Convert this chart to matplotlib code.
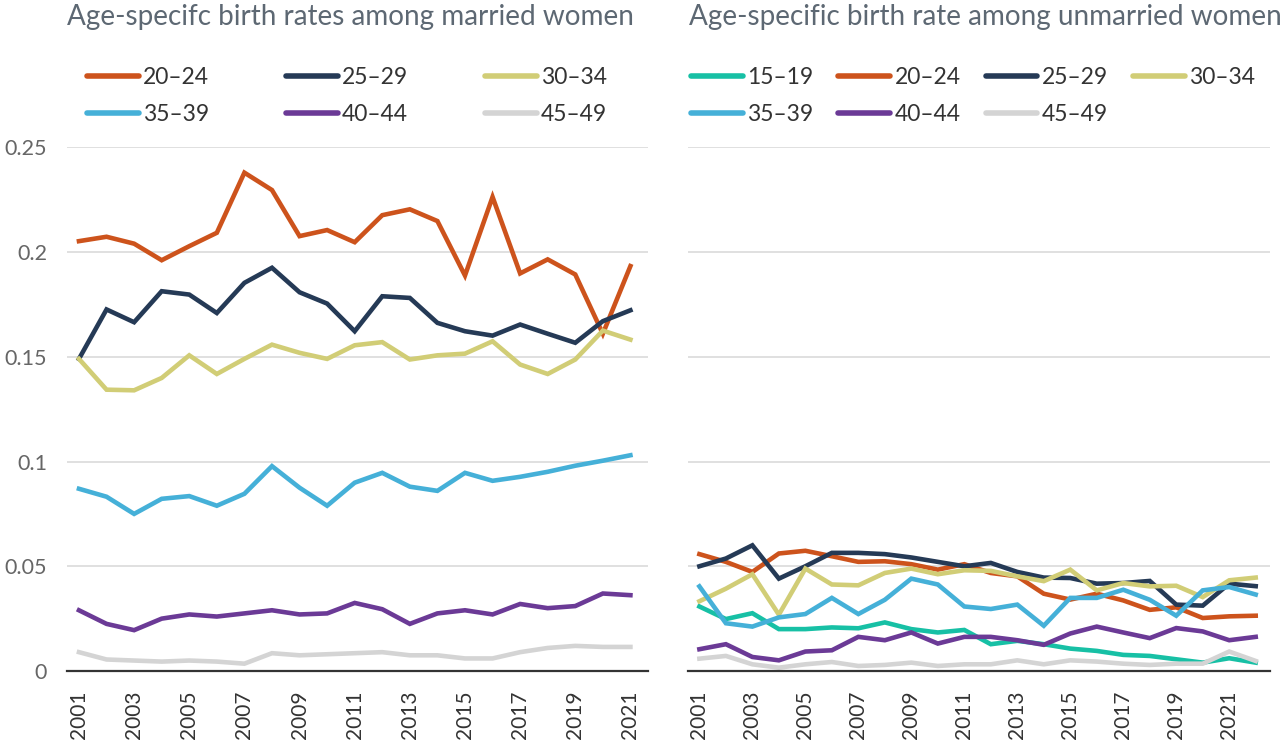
import matplotlib.pyplot as plt
import numpy as np

# Data
years_married = list(range(2001, 2022))
years_unmarried = list(range(2001, 2023))

married_labels = ["20–24", "25–29", "30–34", "35–39", "40–44", "45–49"]
married_20_24 = [0.2052, 0.2073, 0.2040, 0.1961, 0.2028, 0.2092, 0.2379, 0.2296, 0.2076, 0.2105, 0.2047,
                 0.2176, 0.2204, 0.2148, 0.1888, 0.2263, 0.1898, 0.1965, 0.1893, 0.1610, 0.1933]
married_25_29 = [0.1490, 0.1726, 0.1665, 0.1813, 0.1797, 0.1709, 0.1853, 0.1925, 0.1808, 0.1754, 0.1622,
                 0.1789, 0.1781, 0.1662, 0.1622, 0.1601, 0.1654, 0.1610, 0.1567, 0.1670, 0.1722]
married_30_34 = [0.1490, 0.1343, 0.1340, 0.1399, 0.1507, 0.1418, 0.1490, 0.1558, 0.1519, 0.1490, 0.1555,
                 0.1570, 0.1487, 0.1507, 0.1515, 0.1574, 0.1463, 0.1418, 0.1487, 0.1625, 0.1582]
married_35_39 = [0.0870, 0.0832, 0.0750, 0.0822, 0.0835, 0.0789, 0.0846, 0.0978, 0.0875, 0.0789, 0.0899,
                 0.0946, 0.0880, 0.0860, 0.0946, 0.0908, 0.0927, 0.0951, 0.0980, 0.1004, 0.1030]
married_40_44 = [0.0290, 0.0225, 0.0195, 0.0250, 0.0270, 0.0260, 0.0275, 0.0290, 0.0270, 0.0275, 0.0325,
                 0.0295, 0.0225, 0.0275, 0.0290, 0.0270, 0.0320, 0.0300, 0.0310, 0.0370, 0.0362]
married_45_49 = [0.0090, 0.0055, 0.0050, 0.0045, 0.0050, 0.0045, 0.0035, 0.0085, 0.0075, 0.0080, 0.0085,
                 0.0090, 0.0075, 0.0075, 0.0060, 0.0060, 0.0090, 0.0110, 0.0120, 0.0115, 0.0115]

unmarried_labels = ["15–19", "20–24", "25–29", "30–34", "35–39", "40–44", "45–49"]
unmarried_15_19 = [0.0308, 0.0248, 0.0276, 0.0200, 0.0200, 0.0208, 0.0204, 0.0232, 0.0200, 0.0184, 0.0196,
                   0.0128, 0.0144, 0.0128, 0.0107, 0.0096, 0.0077, 0.0072, 0.0056, 0.0040, 0.0061, 0.0040]
unmarried_20_24 = [0.0558, 0.0521, 0.0473, 0.0561, 0.0574, 0.0548, 0.0521, 0.0524, 0.0510, 0.0484, 0.0510,
                   0.0468, 0.0452, 0.0369, 0.0341, 0.0369, 0.0337, 0.0292, 0.0304, 0.0253, 0.0261, 0.0264]
unmarried_25_29 = [0.0500, 0.0537, 0.0600, 0.0441, 0.0500, 0.0564, 0.0564, 0.0558, 0.0542, 0.0521, 0.0500,
                   0.0516, 0.0473, 0.0446, 0.0444, 0.0417, 0.0420, 0.0430, 0.0317, 0.0312, 0.0417, 0.0405]
unmarried_30_34 = [0.0333, 0.0393, 0.0462, 0.0269, 0.0489, 0.0413, 0.0409, 0.0468, 0.0489, 0.0462, 0.0481,
                   0.0478, 0.0452, 0.0429, 0.0484, 0.0385, 0.0420, 0.0404, 0.0407, 0.0353, 0.0433, 0.0446]
unmarried_35_39 = [0.0404, 0.0228, 0.0212, 0.0256, 0.0272, 0.0349, 0.0272, 0.0340, 0.0441, 0.0413, 0.0308,
                   0.0296, 0.0317, 0.0216, 0.0349, 0.0349, 0.0388, 0.0340, 0.0264, 0.0385, 0.0401, 0.0365]
unmarried_40_44 = [0.0104, 0.0128, 0.0067, 0.0051, 0.0093, 0.0099, 0.0163, 0.0147, 0.0184, 0.0131, 0.0163,
                   0.0163, 0.0147, 0.0125, 0.0179, 0.0212, 0.0184, 0.0157, 0.0205, 0.0189, 0.0147, 0.0163]
unmarried_45_49 = [0.0059, 0.0072, 0.0032, 0.0016, 0.0032, 0.0043, 0.0024, 0.0029, 0.0040, 0.0024, 0.0032,
                   0.0032, 0.0051, 0.0032, 0.0051, 0.0045, 0.0035, 0.0029, 0.0035, 0.0035, 0.0093, 0.0048]

married_series = [married_20_24, married_25_29, married_30_34, married_35_39, married_40_44, married_45_49]
unmarried_series = [unmarried_15_19, unmarried_20_24, unmarried_25_29, unmarried_30_34,
                    unmarried_35_39, unmarried_40_44, unmarried_45_49]

colors = {
    "15–19": "#17c0a5",
    "20–24": "#cd531c",
    "25–29": "#253a56",
    "30–34": "#d1cd76",
    "35–39": "#45b0d8",
    "40–44": "#6b3a96",
    "45–49": "#d4d4d4",
}

plt.rcParams['font.family'] = ['Lato', 'DejaVu Sans']

fig = plt.figure(figsize=(12.8, 7.44), dpi=100)
ax1 = fig.add_axes([0.052, 0.0981, 0.4543, 0.7039])
ax2 = fig.add_axes([0.5375, 0.0981, 0.4547, 0.7039])

TITLE_COLOR = "#5d6873"
TEXT_COLOR = "#333333"
GRID_COLOR = "#dddddd"


def style_axis(ax, years, xlim, show_ylabels):
    ax.set_ylim(0, 0.25)
    ax.set_xlim(*xlim)
    ax.set_yticks([0, 0.05, 0.1, 0.15, 0.2, 0.25])
    ax.set_yticklabels(["0", "0.05", "0.1", "0.15", "0.2", "0.25"])
    ax.set_xticks(years[::2])
    ax.set_xticklabels([str(y) for y in years[::2]], rotation=90, fontsize=15, color=TEXT_COLOR)
    ax.tick_params(axis='x', length=0, pad=14)
    ax.tick_params(axis='y', length=0, pad=14, labelsize=15.5, labelcolor="#666666")
    if not show_ylabels:
        ax.tick_params(axis='y', labelleft=False)
    ax.grid(axis='y', color=GRID_COLOR, linewidth=1.3, zorder=0)
    ax.set_axisbelow(True)
    for side in ["top", "right", "left"]:
        ax.spines[side].set_visible(False)
    ax.spines["bottom"].set_color("#333333")
    ax.spines["bottom"].set_linewidth(1.6)
    ax.spines["bottom"].set_zorder(5)


# Left: married women
for label, vals in zip(married_labels, married_series):
    ax1.plot(years_married, vals, color=colors[label], linewidth=3.3, label=label,
             solid_joinstyle='miter', zorder=3)
style_axis(ax1, years_married, (2000.55, 2021.64), True)

# Right: unmarried women
for label, vals in zip(unmarried_labels, unmarried_series):
    ax2.plot(years_unmarried, vals, color=colors[label], linewidth=3.3, label=label,
             solid_joinstyle='miter', zorder=3)
style_axis(ax2, years_married, (2000.57, 2022.54), False)

# Titles
fig.text(67 / 1280, 1 - 17 / 744, "Age-specifc birth rates among married women",
         fontsize=20.1, color=TITLE_COLOR, va='center', ha='left')
fig.text(689 / 1280, 1 - 17 / 744, "Age-specific birth rate among unmarried women",
         fontsize=20.1, color=TITLE_COLOR, va='center', ha='left')

# Legends - matplotlib fills columns first, so reorder to read row by row
h1, l1 = ax1.get_legend_handles_labels()
order1 = [0, 3, 1, 4, 2, 5]
leg1 = ax1.legend([h1[i] for i in order1], [l1[i] for i in order1],
                  loc='upper left', bbox_to_anchor=(87 / 1280, 1 - 67 / 744),
                  bbox_transform=fig.transFigure, ncol=3, frameon=False, fontsize=16.5,
                  handlelength=2.25, handletextpad=0.2, columnspacing=3.35,
                  labelspacing=0.68, borderpad=0, borderaxespad=0)
h2, l2 = ax2.get_legend_handles_labels()
order2 = [0, 4, 1, 5, 2, 6, 3]
leg2 = ax2.legend([h2[i] for i in order2], [l2[i] for i in order2],
                  loc='upper left', bbox_to_anchor=(691 / 1280, 1 - 67 / 744),
                  bbox_transform=fig.transFigure, ncol=4, frameon=False, fontsize=16.5,
                  handlelength=2.25, handletextpad=0.2, columnspacing=1.1,
                  labelspacing=0.68, borderpad=0, borderaxespad=0)
for leg in (leg1, leg2):
    for t in leg.get_texts():
        t.set_color(TEXT_COLOR)
    for h in leg.get_lines():
        h.set_linewidth(4)
        h.set_solid_capstyle('round')

plt.savefig("out.png", dpi=100, facecolor='white')
